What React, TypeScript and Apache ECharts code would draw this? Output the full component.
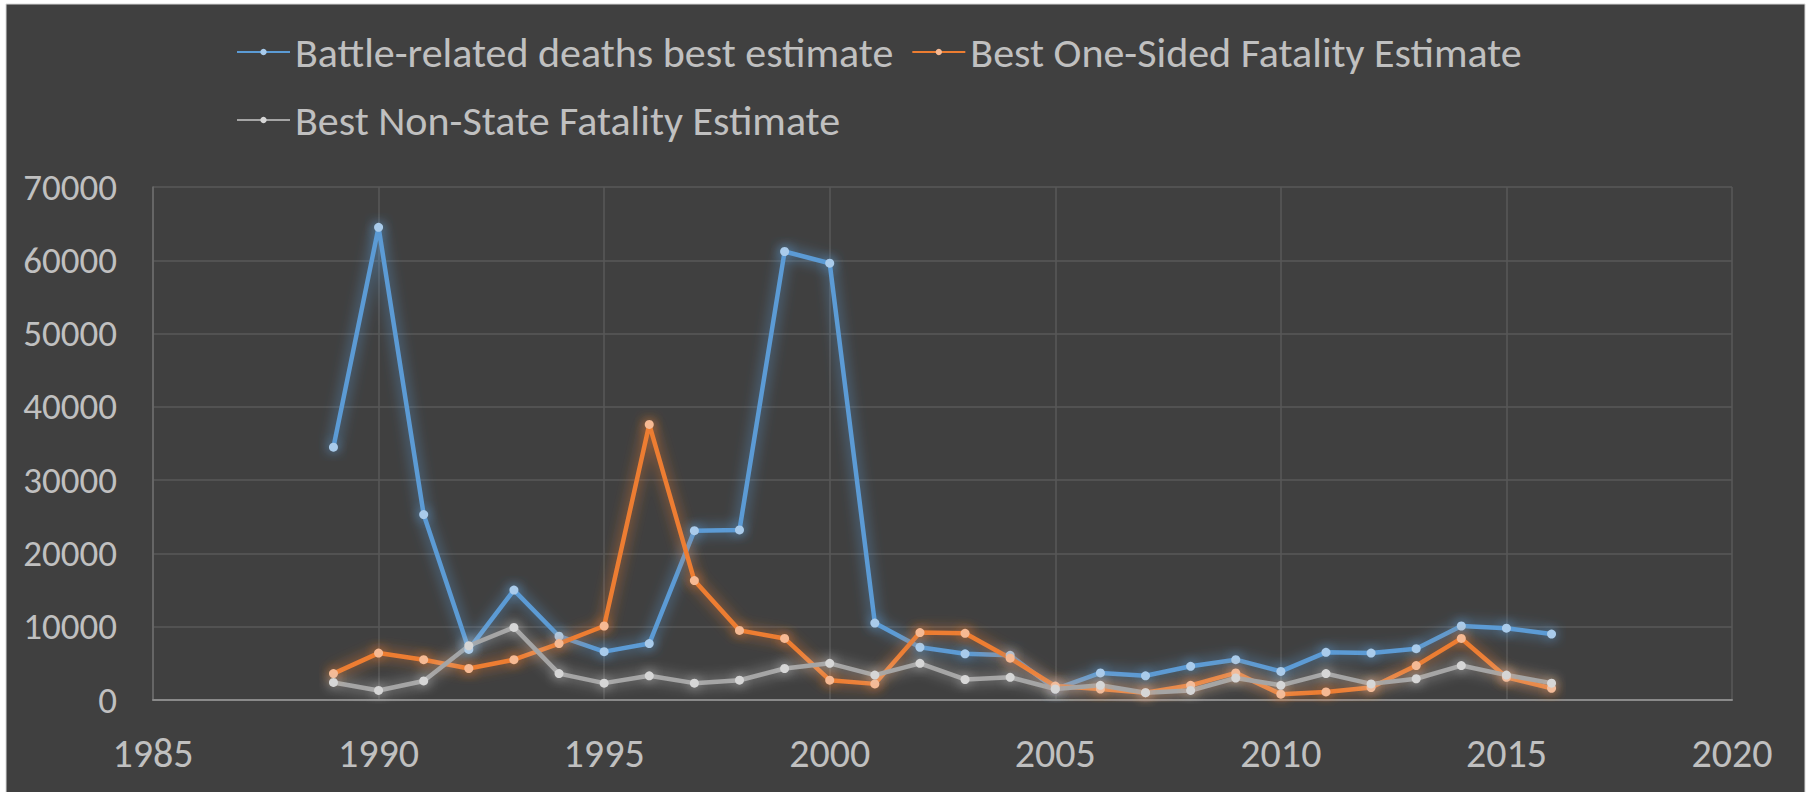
import React, { useEffect, useRef } from "react";
import * as echarts from "echarts";

const years = [1989, 1990, 1991, 1992, 1993, 1994, 1995, 1996, 1997, 1998, 1999, 2000, 2001, 2002, 2003, 2004, 2005, 2006, 2007, 2008, 2009, 2010, 2011, 2012, 2013, 2014, 2015, 2016];
const battleDeaths = [34500, 64500, 25300, 6900, 15000, 8700, 6600, 7700, 23100, 23200, 61200, 59600, 10500, 7200, 6300, 6100, 1500, 3700, 3300, 4600, 5500, 3900, 6500, 6400, 7000, 10100, 9800, 9000];
const oneSided = [3600, 6400, 5500, 4300, 5500, 7700, 10100, 37600, 16300, 9500, 8400, 2700, 2200, 9200, 9100, 5700, 1900, 1500, 1000, 2000, 3700, 800, 1100, 1700, 4700, 8400, 3100, 1600];
const nonState = [2400, 1300, 2600, 7400, 9900, 3600, 2300, 3300, 2300, 2700, 4300, 5000, 3400, 5000, 2800, 3100, 1500, 2000, 1000, 1300, 3000, 2000, 3600, 2200, 2900, 4700, 3400, 2300];
const seriesNames = ["Battle-related deaths best estimate", "Best One-Sided Fatality Estimate", "Best Non-State Fatality Estimate"];

const FONT = "Carlito, Calibri, Lato, sans-serif";
const TXT = "#C0C0C0";

function mkSeries(name: string, vals: number[], line: string, marker: string, glow: string) {
  return {
    name,
    type: "line",
    data: years.map((y, i) => [y, vals[i]]),
    symbol: "circle",
    symbolSize: 9,
    showSymbol: true,
    lineStyle: { width: 4.5, color: line, shadowBlur: 14, shadowColor: glow },
    itemStyle: { color: marker, borderWidth: 0, shadowBlur: 12, shadowColor: glow },
    emphasis: { disabled: true },
  };
}

export default function App() {
  const ref = useRef<HTMLDivElement>(null);
  useEffect(() => {
    document.body.style.margin = "0";
    const chart = echarts.init(ref.current!, null, { renderer: "svg" });
    chart.setOption({
      animation: false,
      backgroundColor: "#FFFFFF",
      graphic: [
        { type: "rect", z: -100, silent: true, shape: { x: 6, y: 4, width: 1799, height: 790 }, style: { fill: "#404040", stroke: "#D9D9D9", lineWidth: 1 } },
      ],
      legend: {
        left: 236,
        top: 27,
        width: 1330,
        padding: 0,
        itemWidth: 53,
        itemHeight: 8,
        itemGap: 18,
        textStyle: { fontFamily: FONT, fontSize: 42, color: TXT, lineHeight: 50 },
        data: seriesNames,
      },
      grid: { left: 153, right: 82, top: 187, bottom: 92, containLabel: false },
      xAxis: {
        type: "value",
        min: 1985,
        max: 2020,
        interval: 5,
        axisLine: { show: true, lineStyle: { color: "#8A8A8A", width: 2 } },
        axisTick: { show: false },
        axisLabel: { fontFamily: FONT, fontSize: 40, color: TXT, margin: 33, formatter: (v: number) => String(v) },
        splitLine: { show: true, lineStyle: { color: "#595959", width: 1.5 } },
      },
      yAxis: {
        type: "value",
        min: 0,
        max: 70000,
        interval: 10000,
        axisLine: { show: true, lineStyle: { color: "#6E6E6E", width: 1.5 } },
        axisTick: { show: false },
        axisLabel: { fontFamily: FONT, fontSize: 37, color: TXT, margin: 36, formatter: (v: number) => String(v) },
        splitLine: { show: true, lineStyle: { color: "#595959", width: 1.5 } },
      },
      series: [
        mkSeries(seriesNames[0], battleDeaths, "#5B9BD5", "#A9CBEB", "rgba(91,155,213,0.9)"),
        mkSeries(seriesNames[1], oneSided, "#ED7D31", "#F6B993", "rgba(237,125,49,0.9)"),
        mkSeries(seriesNames[2], nonState, "#A5A5A5", "#D6D6D6", "rgba(210,210,210,0.75)"),
      ],
    });
    return () => chart.dispose();
  }, []);
  return <div ref={ref} style={{ position: "absolute", left: 0, top: 0, width: 1814, height: 792 }} />;
}
